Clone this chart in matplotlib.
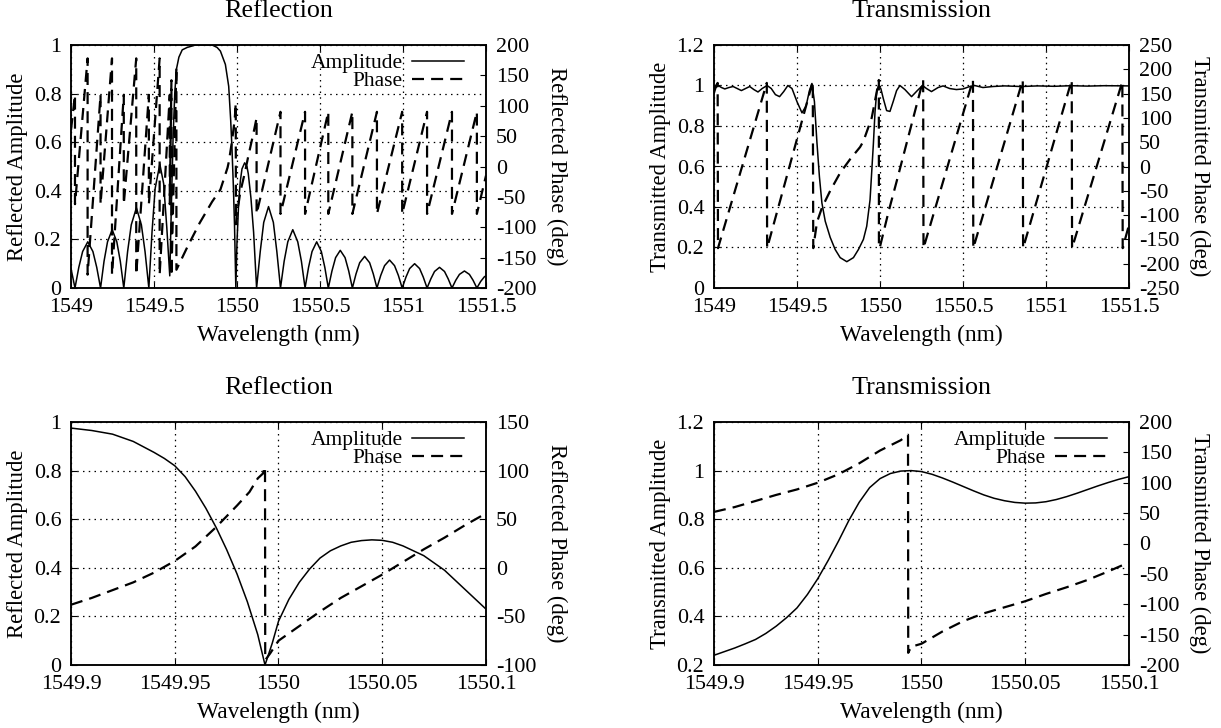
import matplotlib
matplotlib.use("Agg")
import matplotlib.pyplot as plt
from matplotlib.ticker import FixedLocator, FixedFormatter

# ---------------- data ----------------
# top-left: reflection, wide span
refl_wl = [1549.000, 1549.012, 1549.024,
           1549.047, 1549.070, 1549.101, 1549.132, 1549.155, 1549.178,
           1549.199, 1549.220, 1549.248, 1549.276, 1549.297, 1549.318,
           1549.341, 1549.363, 1549.394, 1549.424, 1549.446, 1549.469,
           1549.488, 1549.507, 1549.535, 1549.558, 1549.577, 1549.595,
           1549.605, 1549.615, 1549.625, 1549.635, 1549.650, 1549.670, 1549.700,
           1549.750, 1549.850, 1549.880, 1549.900, 1549.930, 1549.950, 1549.962,
           1549.970, 1549.978, 1549.985, 1549.993, 1550.000, 1550.010, 1550.020,
           1550.030, 1550.046, 1550.060, 1550.068, 1550.084, 1550.100, 1550.118,
           1550.140, 1550.161, 1550.190, 1550.219, 1550.240, 1550.262,
           1550.284, 1550.306, 1550.336, 1550.366, 1550.388, 1550.410,
           1550.431, 1550.452, 1550.480, 1550.508, 1550.529, 1550.550,
           1550.572, 1550.594, 1550.622, 1550.651, 1550.673, 1550.695,
           1550.717, 1550.739, 1550.769, 1550.799, 1550.821, 1550.843,
           1550.866, 1550.889, 1550.919, 1550.949, 1550.972, 1550.995,
           1551.018, 1551.040, 1551.070, 1551.100, 1551.122, 1551.145,
           1551.168, 1551.190, 1551.220, 1551.250, 1551.272, 1551.295,
           1551.318, 1551.340, 1551.370, 1551.400, 1551.422, 1551.445,
           1551.468, 1551.490, 1551.500]
refl_amp = [0.08, 0.04, 0.0,
            0.085, 0.15, 0.19, 0.15, 0.085, 0.0,
            0.11, 0.19, 0.24, 0.19, 0.11, 0.0,
            0.15, 0.26, 0.33, 0.26, 0.15, 0.0,
            0.23, 0.41, 0.51, 0.43, 0.25, 0.05,
            0.35, 0.62, 0.80, 0.90, 0.95, 0.98, 0.99,
            1.0, 1.0, 0.99, 0.975, 0.92, 0.83, 0.69,
            0.57, 0.42, 0.26, 0.0, 0.19, 0.35, 0.44,
            0.49, 0.515, 0.50, 0.47, 0.37, 0.23, 0.0,
            0.15, 0.27, 0.335, 0.27, 0.15, 0.0,
            0.11, 0.19, 0.24, 0.19, 0.11, 0.0,
            0.085, 0.15, 0.19, 0.15, 0.085, 0.0,
            0.07, 0.125, 0.155, 0.125, 0.07, 0.0,
            0.058, 0.104, 0.13, 0.104, 0.058, 0.0,
            0.052, 0.092, 0.115, 0.092, 0.052, 0.0,
            0.045, 0.08, 0.10, 0.08, 0.045, 0.0,
            0.038, 0.068, 0.085, 0.068, 0.038, 0.0,
            0.032, 0.056, 0.07, 0.056, 0.032, 0.0,
            0.027, 0.046, 0.05]

refl_ph_wl = [1549.000, 1549.024, 1549.024, 1549.100, 1549.100, 1549.178, 1549.178,
              1549.247, 1549.247, 1549.318, 1549.318, 1549.393, 1549.393,
              1549.469, 1549.469, 1549.534, 1549.534, 1549.595, 1549.595,
              1549.605, 1549.605, 1549.635, 1549.635,
              1549.700, 1549.775, 1549.850, 1549.900, 1549.943, 1549.951,
              1549.970, 1549.986, 1549.9925, 1549.9935, 1549.995, 1550.000,
              1550.010, 1550.020, 1550.050, 1550.068, 1550.100, 1550.118, 1550.118,
              1550.262, 1550.262, 1550.410, 1550.410, 1550.550, 1550.550,
              1550.695, 1550.695, 1550.843, 1550.843, 1550.995, 1550.995,
              1551.145, 1551.145, 1551.295, 1551.295, 1551.445, 1551.445, 1551.500]
refl_ph = [60, 118, -62, 178, -178, 118, -62,
           178, -178, 118, -62, 178, -178,
           118, -62, 178, -178, 118, -62,
           142, -180, 164, -170,
           -133, -93, -58, -38, -2, 8,
           42, 77, 104, -95, -91, -74,
           -60, -42, -7, 17, 56, 80, -78,
           90, -78, 90, -78, 90, -78,
           90, -78, 90, -78, 90, -78,
           90, -78, 90, -78, 90, -78, -15]

# top-right: transmission, wide span
tran_wl = [1549.000, 1549.012, 1549.025, 1549.045, 1549.065, 1549.090, 1549.115,
           1549.140, 1549.165, 1549.190, 1549.215, 1549.240, 1549.265, 1549.290,
           1549.320, 1549.345, 1549.370, 1549.395, 1549.420, 1549.445, 1549.470,
           1549.500, 1549.530, 1549.555, 1549.575, 1549.590, 1549.605, 1549.620,
           1549.635, 1549.650, 1549.670, 1549.700, 1549.730, 1549.760, 1549.800,
           1549.840, 1549.870, 1549.900, 1549.920, 1549.940, 1549.960, 1549.970,
           1549.980, 1549.990, 1550.005, 1550.020, 1550.040, 1550.060, 1550.080,
           1550.100, 1550.120, 1550.150, 1550.190, 1550.225, 1550.256, 1550.280,
           1550.310, 1550.350, 1550.380, 1550.420, 1550.460, 1550.500, 1550.540,
           1550.570, 1550.620, 1550.680, 1550.750, 1550.850, 1550.950, 1551.050,
           1551.150, 1551.250, 1551.350, 1551.500]
tran_amp = [0.96, 0.99, 1.0, 0.99, 0.983, 0.99, 0.995,
            0.985, 0.975, 0.985, 0.995, 0.98, 0.968, 0.985,
            1.0, 0.985, 0.955, 0.945, 0.97, 1.0, 0.985,
            0.92, 0.865, 0.9, 0.975, 1.01, 0.92, 0.72,
            0.55, 0.42, 0.33, 0.25, 0.19, 0.15, 0.13,
            0.15, 0.19, 0.24, 0.305, 0.435, 0.71, 0.87,
            0.967, 0.998, 0.985, 0.935, 0.876, 0.872, 0.922,
            0.975, 1.0, 0.98, 0.945, 0.975, 1.0, 0.985,
            0.97, 0.99, 0.998, 0.985, 0.98, 0.983, 0.995,
            1.0, 0.99, 0.995, 0.998, 0.995, 0.998, 0.996,
            0.999, 0.997, 0.999, 0.998]

tran_ph_wl = [1549.000, 1549.022, 1549.024, 1549.318, 1549.320, 1549.595, 1549.598,
              1549.620, 1549.650, 1549.700, 1549.760, 1549.820, 1549.880, 1549.900,
              1549.950, 1549.980, 1549.993, 1549.9935, 1550.000, 1550.050, 1550.100,
              1550.260, 1550.262, 1550.560, 1550.562, 1550.860, 1550.862,
              1551.155, 1551.157, 1551.460, 1551.462, 1551.500]
tran_ph = [158, 172, -168, 172, -168, 175, -168,
           -115, -85, -50, -13, 15, 40, 52,
           100, 153, 178, -168, -165, -95, -31,
           178, -168, 178, -168, 178, -168,
           178, -168, 175, -168, -120]

# bottom-left: reflection, close-up
refl_z_wl = [1549.900, 1549.910, 1549.920, 1549.930, 1549.940, 1549.945, 1549.950,
             1549.955, 1549.960, 1549.965, 1549.970, 1549.975, 1549.980, 1549.985,
             1549.990, 1549.9935, 1549.997, 1550.000, 1550.005, 1550.010, 1550.015,
             1550.020, 1550.025, 1550.030, 1550.035, 1550.040, 1550.045, 1550.050,
             1550.055, 1550.060, 1550.065, 1550.070, 1550.075, 1550.080, 1550.085,
             1550.090, 1550.095, 1550.100]
refl_z_amp = [0.975, 0.965, 0.95, 0.92, 0.875, 0.85, 0.82,
              0.775, 0.715, 0.645, 0.565, 0.475, 0.375, 0.26,
              0.125, 0.0, 0.09, 0.18, 0.27, 0.34, 0.395,
              0.44, 0.47, 0.49, 0.505, 0.512, 0.515, 0.513,
              0.505, 0.49, 0.47, 0.45, 0.42, 0.39, 0.35,
              0.31, 0.27, 0.23]
refl_z_ph_wl = [1549.900, 1549.910, 1549.920, 1549.930, 1549.940, 1549.950, 1549.960,
                1549.970, 1549.980, 1549.986, 1549.990, 1549.9925, 1549.9935,
                1549.9936, 1549.996, 1550.000, 1550.010, 1550.020, 1550.030,
                1550.040, 1550.050, 1550.060, 1550.070, 1550.080, 1550.090, 1550.100]
refl_z_ph = [-38, -31, -23, -15, -5, 7, 22,
             42, 64, 78, 92, 97, 104,
             -95, -88, -75, -60, -45, -31,
             -19, -7, 6, 19, 31, 44, 56]

# bottom-right: transmission, close-up
tran_z_wl = [1549.900, 1549.905, 1549.910, 1549.915, 1549.920, 1549.925, 1549.930,
             1549.935, 1549.940, 1549.945, 1549.950, 1549.955, 1549.960, 1549.965,
             1549.970, 1549.975, 1549.980, 1549.985, 1549.990, 1549.995, 1550.000,
             1550.005, 1550.010, 1550.015, 1550.020, 1550.025, 1550.030, 1550.035,
             1550.040, 1550.045, 1550.050, 1550.055, 1550.060, 1550.065, 1550.070,
             1550.075, 1550.080, 1550.085, 1550.090, 1550.095, 1550.100]
tran_z_amp = [0.24, 0.255, 0.27, 0.287, 0.305, 0.33, 0.36,
              0.395, 0.435, 0.49, 0.555, 0.63, 0.71, 0.795,
              0.87, 0.93, 0.967, 0.988, 0.998, 1.0, 0.996,
              0.985, 0.97, 0.953, 0.935, 0.917, 0.9, 0.886,
              0.876, 0.869, 0.866, 0.867, 0.872, 0.881, 0.893,
              0.907, 0.922, 0.937, 0.951, 0.964, 0.975]
tran_z_ph_wl = [1549.900, 1549.910, 1549.920, 1549.930, 1549.940, 1549.950, 1549.960,
                1549.970, 1549.980, 1549.990, 1549.9935, 1549.9936, 1549.995,
                1550.000, 1550.010, 1550.020, 1550.030, 1550.040, 1550.050,
                1550.060, 1550.070, 1550.080, 1550.090, 1550.100]
tran_z_ph = [52, 60, 70, 80, 89, 100, 114,
             132, 153, 170, 179, -180, -170,
             -165, -145, -128, -115, -105, -95,
             -83, -72, -60, -46, -31]

# axis ticks
wide_xticks = [1549, 1549.5, 1550, 1550.5, 1551, 1551.5]
wide_xlabels = ["1549", "1549.5", "1550", "1550.5", "1551", "1551.5"]
zoom_xticks = [1549.9, 1549.95, 1550.0, 1550.05, 1550.1]
zoom_xlabels = ["1549.9", "1549.95", "1550", "1550.05", "1550.1"]

# ---------------- style ----------------
plt.rcParams.update({
    "font.family": ["Liberation Serif", "DejaVu Serif"],
    "font.size": 15.8,
    "axes.linewidth": 1.1,
    "xtick.direction": "in",
    "ytick.direction": "in",
    "xtick.major.size": 4.5,
    "ytick.major.size": 4.5,
    "xtick.major.pad": 7,
    "ytick.major.pad": 7,
})

fig = plt.figure(figsize=(12.21, 7.28), dpi=100)
W, H = 1221.0, 728.0

DOT = (0, (1.2, 3.4))
DASH = (0, (5.4, 3.2))


def panel(px, py, title, wl_a, amp, wl_p, ph, xticks, xlabels,
          ylim, yticks, ylabels, y2lim, y2ticks, ylab, y2lab, legend=True):
    # px, py = pixel position of the lower-left axes corner (from top of image)
    ax = fig.add_axes([px / W, 1 - py / H, 415 / W, 243 / H])
    ax.set_xlim(xticks[0], xticks[-1])
    ax.set_ylim(*ylim)
    ax.xaxis.set_major_locator(FixedLocator(xticks))
    ax.xaxis.set_major_formatter(FixedFormatter(xlabels))
    ax.yaxis.set_major_locator(FixedLocator(yticks))
    ax.yaxis.set_major_formatter(FixedFormatter(ylabels))
    ax.tick_params(top=True, right=False)
    ax.grid(True, color="black", linestyle=DOT, linewidth=0.9)
    l1, = ax.plot(wl_a, amp, color="black", linewidth=1.1, label="Amplitude")

    ax2 = ax.twinx()
    ax2.set_ylim(*y2lim)
    ax2.yaxis.set_major_locator(FixedLocator(y2ticks))
    ax2.yaxis.set_major_formatter(FixedFormatter([str(v) for v in y2ticks]))
    l2, = ax2.plot(wl_p, ph, color="black", linewidth=1.6, linestyle=DASH,
                   label="Phase")

    ax.set_title(title, fontsize=18.8, y=1 + 26 / 243, va="center")
    ax.set_xlabel("Wavelength (nm)", fontsize=16.8)
    ax.xaxis.label.set_va("center")
    ax.xaxis.set_label_coords(0.5, -47 / 243)
    ax.set_ylabel(ylab, fontsize=16.3)
    ax.yaxis.label.set_va("center")
    ax.yaxis.set_label_coords(-53 / 415, 0.5)
    ax2.set_ylabel(y2lab, rotation=270, fontsize=16.3)
    ax2.yaxis.label.set_va("center")
    ax2.yaxis.set_label_coords(1 + 71 / 415, 0.5)

    if legend:
        ax2.legend([l1, l2], ["Amplitude", "Phase"], loc="upper right",
                   bbox_to_anchor=(1 - 22 / 415, 1 - 8 / 243), frameon=False,
                   markerfirst=False, handlelength=2.4, handletextpad=0.45,
                   borderpad=0, borderaxespad=0, labelspacing=-0.08,
                   fontsize=15.5)
    return ax, ax2


amp_ticks = [0, 0.2, 0.4, 0.6, 0.8, 1.0]
amp_labels = ["0", "0.2", "0.4", "0.6", "0.8", "1"]

panel(71, 288, "Reflection", refl_wl, refl_amp, refl_ph_wl, refl_ph,
      wide_xticks, wide_xlabels, (0, 1), amp_ticks, amp_labels,
      (-200, 200), list(range(-200, 201, 50)),
      "Reflected Amplitude", "Reflected Phase (deg)")

# the reference shows no key on this panel
panel(714, 288, "Transmission", tran_wl, tran_amp, tran_ph_wl, tran_ph,
      wide_xticks, wide_xlabels, (0, 1.2), amp_ticks + [1.2], amp_labels + ["1.2"],
      (-250, 250), list(range(-250, 251, 50)),
      "Transmitted Amplitude", "Transmitted Phase (deg)", legend=False)

panel(71, 665, "Reflection", refl_z_wl, refl_z_amp, refl_z_ph_wl, refl_z_ph,
      zoom_xticks, zoom_xlabels, (0, 1), amp_ticks, amp_labels,
      (-100, 150), list(range(-100, 151, 50)),
      "Reflected Amplitude", "Reflected Phase (deg)")

panel(714, 665, "Transmission", tran_z_wl, tran_z_amp, tran_z_ph_wl, tran_z_ph,
      zoom_xticks, zoom_xlabels, (0.2, 1.2), amp_ticks[1:] + [1.2],
      amp_labels[1:] + ["1.2"],
      (-200, 200), list(range(-200, 201, 50)),
      "Transmitted Amplitude", "Transmitted Phase (deg)")

fig.savefig("out.png", dpi=100)
